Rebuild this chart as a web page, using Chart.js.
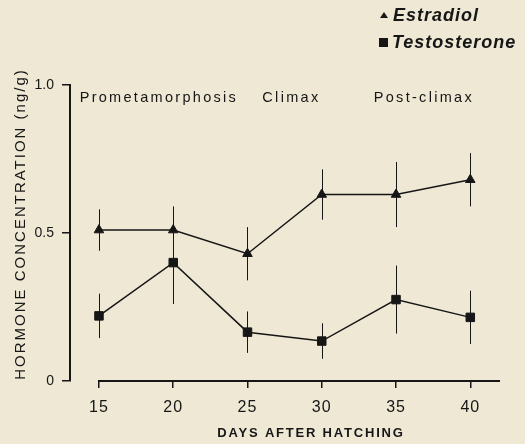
<!DOCTYPE html>
<html>
<head>
<meta charset="utf-8">
<script src="https://cdn.jsdelivr.net/npm/chart.js@4"></script>
<style>
  html, body { margin: 0; padding: 0; background: #eee8d5; }
  #wrap { width: 525px; height: 444px; }
</style>
</head>
<body>
<div id="wrap"><canvas id="hormoneChart"></canvas></div>
<script>
const days = [15, 20, 25, 30, 35, 40];
const estradiol = [0.51, 0.51, 0.43, 0.63, 0.63, 0.68];
const estradiolErr = [0.07, 0.08, 0.09, 0.085, 0.11, 0.09];
const testosterone = [0.22, 0.40, 0.165, 0.135, 0.275, 0.215];
const testosteroneErr = [0.075, 0.14, 0.07, 0.06, 0.115, 0.09];
const yTicks = [0, 0.5, 1.0];
const phaseLabels = ['Prometamorphosis', 'Climax', 'Post-climax'];
const phaseStarts = [13.7, 26, 33.5];
const xTitle = 'DAYS AFTER HATCHING';
const yTitle = 'HORMONE CONCENTRATION (ng/g)';

const ink = '#161616';
const sans = '"Liberation Sans", Arial, sans-serif';

const toPoints = (ys) => days.map((d, i) => ({ x: d, y: ys[i] }));

// error bars, the x axis line starting at day 15, titles, phase labels and legend
const extras = {
    id: 'extras',
    beforeDatasetsDraw(chart) {
        // x tick labels are drawn after the datasets (ticks.z = 1) with a little spacing
        chart.ctx.letterSpacing = '1px';
    },
    afterDatasetsDraw(chart) {
        const { ctx, chartArea, scales: { x, y } } = chart;
        ctx.save();
        ctx.letterSpacing = '0px';
        ctx.strokeStyle = ink;
        ctx.lineWidth = 1;
        [[estradiol, estradiolErr], [testosterone, testosteroneErr]].forEach(([vals, errs]) => {
            vals.forEach((v, i) => {
                const px = Math.round(x.getPixelForValue(days[i])) + 0.5;
                ctx.beginPath();
                ctx.moveTo(px, y.getPixelForValue(v + errs[i]));
                ctx.lineTo(px, y.getPixelForValue(v - errs[i]));
                ctx.stroke();
            });
        });

        ctx.lineWidth = 2;
        ctx.beginPath();
        ctx.moveTo(x.getPixelForValue(days[0]) - 1, chartArea.bottom);
        ctx.lineTo(chartArea.right, chartArea.bottom);
        ctx.stroke();

        ctx.fillStyle = ink;
        ctx.textBaseline = 'middle';
        ctx.textAlign = 'left';
        ctx.font = '14.5px ' + sans;
        ctx.letterSpacing = '2.3px';
        phaseLabels.forEach((t, i) => {
            ctx.fillText(t, x.getPixelForValue(phaseStarts[i]), y.getPixelForValue(0.957));
        });

        // axis titles
        ctx.textAlign = 'center';
        ctx.font = 'bold 13px ' + sans;
        ctx.letterSpacing = '1.8px';
        ctx.fillText(xTitle, 311, 433);

        ctx.save();
        ctx.translate(21, 224);
        ctx.rotate(-Math.PI / 2);
        ctx.font = '15px ' + sans;
        ctx.letterSpacing = '2px';
        ctx.fillText(yTitle, 0, 0);
        ctx.restore();

        // legend
        ctx.textAlign = 'left';
        ctx.letterSpacing = '1px';
        ctx.font = 'italic bold 18px ' + sans;
        ctx.beginPath();
        ctx.moveTo(380, 18);
        ctx.lineTo(388, 18);
        ctx.lineTo(384, 12);
        ctx.closePath();
        ctx.fill();
        ctx.fillText('Estradiol', 393, 16);
        ctx.fillRect(379, 38, 9, 9);
        ctx.fillText('Testosterone', 392, 43);
        ctx.restore();
    },
    afterDraw(chart) {
        chart.ctx.letterSpacing = '0px';
    }
};

new Chart(document.getElementById('hormoneChart'), {
    type: 'line',
    data: {
        datasets: [
            {
                label: 'Estradiol',
                data: toPoints(estradiol),
                borderColor: ink,
                backgroundColor: ink,
                borderWidth: 1.5,
                pointStyle: 'triangle',
                pointRadius: 5.5,
                pointBorderWidth: 1,
            },
            {
                label: 'Testosterone',
                data: toPoints(testosterone),
                borderColor: ink,
                backgroundColor: ink,
                borderWidth: 1.5,
                pointStyle: 'rect',
                pointRadius: 6,
                pointBorderWidth: 1,
            }
        ]
    },
    options: {
        responsive: true,
        maintainAspectRatio: false,
        animation: false,
        layout: { padding: { top: 85, right: 25, left: 0, bottom: 0 } },
        plugins: {
            legend: { display: false },
            tooltip: { enabled: false }
        },
        scales: {
            x: {
                type: 'linear',
                min: 13.05,
                max: 42,
                afterBuildTicks: (s) => { s.ticks = days.map(v => ({ value: v })); },
                afterFit: (s) => { s.height = 63; },
                border: { display: false },
                grid: { drawOnChartArea: false, drawTicks: true, tickLength: 7, color: ink, lineWidth: 1.5 },
                ticks: {
                    z: 1,
                    color: ink,
                    padding: 10,
                    font: { family: sans, size: 16 }
                }
            },
            y: {
                min: 0,
                max: 1.0,
                afterBuildTicks: (s) => { s.ticks = yTicks.map(v => ({ value: v })); },
                afterFit: (s) => { s.width = 70; },
                border: { display: true, color: ink, width: 2 },
                grid: { drawOnChartArea: false, drawTicks: true, tickLength: 8, color: ink, lineWidth: 1.5 },
                ticks: {
                    color: ink,
                    padding: 8,
                    font: { family: sans, size: 14 },
                    callback: (v) => v === 0 ? '0' : v.toFixed(1)
                }
            }
        }
    },
    plugins: [extras]
});
</script>
</body>
</html>
